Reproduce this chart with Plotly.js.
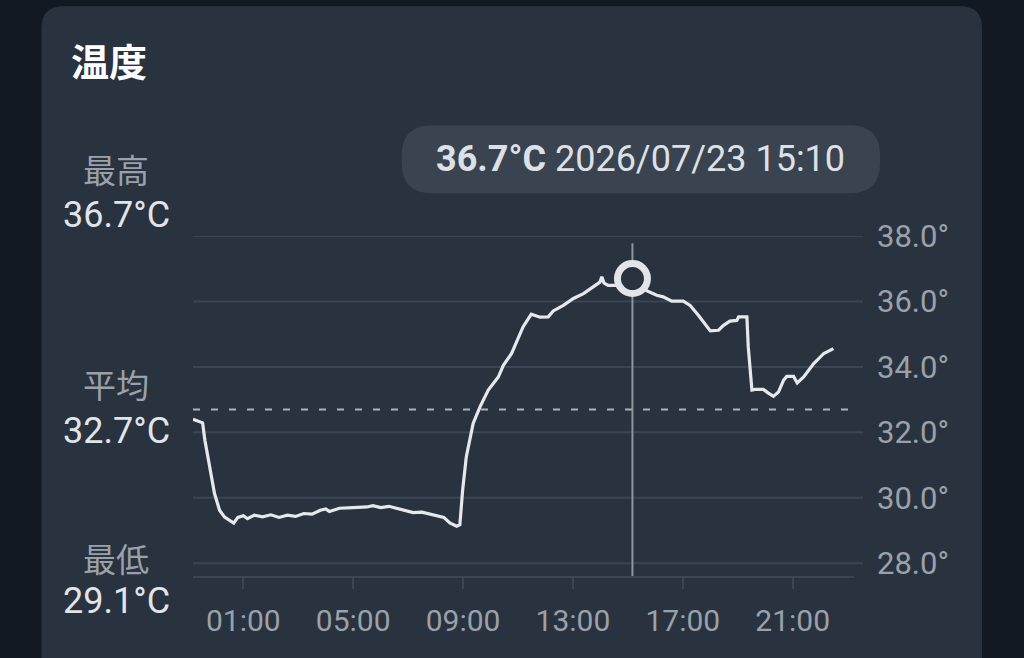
<!DOCTYPE html>
<html>
<head>
<meta charset="utf-8">
<script src="https://cdn.plot.ly/plotly-3.0.1.min.js"></script>
<style>
  html, body { margin: 0; padding: 0; background: #131923; }
  #chart { width: 1024px; height: 658px; }
</style>
</head>
<body>
<div id="chart"></div>
<script>
// ---- data ----
const times = [
  "2026-07-22 23:10","2026-07-22 23:31","2026-07-22 23:36","2026-07-22 23:46","2026-07-22 23:57",
  "2026-07-23 00:08","2026-07-23 00:19","2026-07-23 00:39","2026-07-23 00:48","2026-07-23 01:00",
  "2026-07-23 01:09","2026-07-23 01:24","2026-07-23 01:42","2026-07-23 02:00","2026-07-23 02:18",
  "2026-07-23 02:36","2026-07-23 02:54","2026-07-23 03:12","2026-07-23 03:30","2026-07-23 03:48",
  "2026-07-23 04:00","2026-07-23 04:08","2026-07-23 04:30","2026-07-23 05:00","2026-07-23 05:30",
  "2026-07-23 05:43","2026-07-23 06:00","2026-07-23 06:18","2026-07-23 06:34","2026-07-23 06:54",
  "2026-07-23 07:11","2026-07-23 07:30","2026-07-23 08:02","2026-07-23 08:18","2026-07-23 08:31",
  "2026-07-23 08:46","2026-07-23 08:53","2026-07-23 08:59","2026-07-23 09:07","2026-07-23 09:22",
  "2026-07-23 09:37","2026-07-23 09:55","2026-07-23 10:17","2026-07-23 10:28","2026-07-23 10:46",
  "2026-07-23 11:11","2026-07-23 11:29","2026-07-23 11:48","2026-07-23 12:06","2026-07-23 12:17",
  "2026-07-23 12:39","2026-07-23 13:01","2026-07-23 13:23","2026-07-23 13:44","2026-07-23 13:59",
  "2026-07-23 14:03","2026-07-23 14:08","2026-07-23 14:17","2026-07-23 14:32","2026-07-23 14:51",
  "2026-07-23 15:10","2026-07-23 15:30","2026-07-23 15:49","2026-07-23 16:03","2026-07-23 16:17",
  "2026-07-23 16:36","2026-07-23 17:01","2026-07-23 17:16","2026-07-23 17:34","2026-07-23 17:56",
  "2026-07-23 18:00","2026-07-23 18:18","2026-07-23 18:29","2026-07-23 18:43","2026-07-23 18:58",
  "2026-07-23 19:02","2026-07-23 19:20","2026-07-23 19:23","2026-07-23 19:31","2026-07-23 19:38",
  "2026-07-23 19:56","2026-07-23 20:07","2026-07-23 20:18","2026-07-23 20:29","2026-07-23 20:40",
  "2026-07-23 20:47","2026-07-23 21:02","2026-07-23 21:10","2026-07-23 21:24","2026-07-23 21:46",
  "2026-07-23 22:08","2026-07-23 22:29"
];
const temps = [
  32.40,32.29,31.76,30.94,30.13,
  29.62,29.41,29.23,29.40,29.45,
  29.36,29.47,29.42,29.48,29.40,
  29.47,29.43,29.52,29.50,29.62,
  29.66,29.58,29.68,29.70,29.72,
  29.76,29.70,29.74,29.68,29.63,
  29.55,29.56,29.45,29.40,29.23,
  29.13,29.18,30.23,31.25,32.27,
  32.78,33.29,33.69,34.05,34.41,
  35.22,35.61,35.52,35.53,35.71,
  35.88,36.09,36.24,36.44,36.59,
  36.75,36.56,36.49,36.49,36.55,
  36.70,36.40,36.29,36.19,36.14,
  36.01,36.01,35.88,35.58,35.17,
  35.10,35.12,35.27,35.40,35.42,
  35.53,35.53,34.61,33.29,33.31,
  33.31,33.20,33.10,33.23,33.59,
  33.71,33.71,33.51,33.69,34.10,
  34.41,34.56
];
const yTickVals = [28, 30, 32, 34, 36, 38];
const statLabels = ["最高", "平均", "最低"];
const statValues = [36.7, 32.7, 29.1];
const avgTemp = 32.7;
const hoverTime = "2026-07-23 15:10";
const hoverTemp = 36.7;
const hoverLabelDate = "2026/07/23 15:10";
const chartTitle = "温度";

// ---- layout helpers (pixel -> paper) ----
const L = 193.4, R = 854, T = 235.7, B = 575.7;
const px = p => (p - L) / (R - L);
const py = p => (B - p) / (B - T);
function roundRect(x0, y0, x1, y1, r) {
  const P = (x, y) => px(x).toFixed(5) + "," + py(y).toFixed(5);
  return "M" + P(x0 + r, y0) + " L" + P(x1 - r, y0) + " Q" + P(x1, y0) + " " + P(x1, y0 + r) +
    " L" + P(x1, y1 - r) + " Q" + P(x1, y1) + " " + P(x1 - r, y1) +
    " L" + P(x0 + r, y1) + " Q" + P(x0, y1) + " " + P(x0, y1 - r) +
    " L" + P(x0, y0 + r) + " Q" + P(x0, y0) + " " + P(x0 + r, y0) + " Z";
}

const FONT = "Roboto, 'Noto Sans CJK JP', sans-serif";
const CJK = "'Noto Sans CJK JP', sans-serif";
const CARD = "#29323f";
const GRID = "#3b4553";
const LABEL = "#9ba1a9";
const VALUE = "#e1e4e8";

const traces = [
  {
    x: times, y: temps, type: "scatter", mode: "lines",
    line: { color: "#e6e8eb", width: 3.2 },
    hoverinfo: "skip", showlegend: false
  },
  {
    x: [hoverTime], y: [hoverTemp], type: "scatter", mode: "markers",
    marker: { size: 30, color: CARD, line: { color: "#e2e4e7", width: 7 } },
    hoverinfo: "skip", showlegend: false, cliponaxis: false
  }
];

const shapes = [
  { type: "path", xref: "paper", yref: "paper", layer: "below",
    path: roundRect(42, 6, 982, 720, 22), fillcolor: CARD, line: { width: 0 } }
];
yTickVals.forEach(v => shapes.push({
  type: "line", xref: "paper", yref: "y", layer: "below",
  x0: 0, x1: px(863), y0: v, y1: v, line: { color: GRID, width: 2 }
}));
shapes.push({
  type: "line", xref: "paper", yref: "y", layer: "below",
  x0: 0, x1: 1, y0: avgTemp, y1: avgTemp,
  line: { color: "#aeb2b8", width: 2, dash: "7px,11px" }
});
shapes.push({
  type: "line", xref: "x", yref: "paper", layer: "below",
  x0: hoverTime, x1: hoverTime, y0: 0, y1: py(243),
  line: { color: "#8f959d", width: 2 }
});
shapes.push({
  type: "path", xref: "paper", yref: "paper", layer: "below",
  path: roundRect(402, 125, 880, 193, 30), fillcolor: "#3a4350", line: { width: 0 }
});

const annotations = [];
const statY = [[169, 215], [384, 431], [558, 601]];
statLabels.forEach((lab, i) => {
  annotations.push({
    xref: "paper", yref: "paper", x: px(116), y: py(statY[i][0]),
    xanchor: "center", yanchor: "middle", showarrow: false,
    text: lab, font: { family: CJK, size: 33, color: LABEL }
  });
  annotations.push({
    xref: "paper", yref: "paper", x: px(117), y: py(statY[i][1]),
    xanchor: "center", yanchor: "middle", showarrow: false,
    text: statValues[i].toFixed(1) + "°C", font: { family: FONT, size: 36, color: VALUE }
  });
});
annotations.push({
  xref: "paper", yref: "paper", x: px(641), y: py(159),
  xanchor: "center", yanchor: "middle", showarrow: false,
  text: "<b>" + hoverTemp.toFixed(1) + "°C</b> " + hoverLabelDate,
  font: { family: FONT, size: 36, color: "#dde0e5" }
});

const layout = {
  width: 1024, height: 658,
  margin: { l: L, r: 1024 - R, t: T, b: 658 - B, pad: 0 },
  paper_bgcolor: "#131923",
  plot_bgcolor: "rgba(0,0,0,0)",
  title: {
    text: "<b>" + chartTitle + "</b>",
    x: 71 / 1024, xanchor: "left", xref: "container",
    y: 1 - 63 / 658, yanchor: "middle", yref: "container",
    font: { family: CJK, size: 38, color: "#ffffff" }
  },
  xaxis: {
    type: "date",
    range: ["2026-07-22 23:10", "2026-07-23 23:14"],
    tick0: "2026-07-23 01:00", dtick: 4 * 3600 * 1000,
    tickformat: "%H:%M",
    showgrid: false, zeroline: false,
    showline: true, linecolor: GRID, linewidth: 2,
    ticks: "outside", ticklen: 11, tickwidth: 2, tickcolor: GRID,
    ticklabelstandoff: 6,
    tickfont: { family: FONT, size: 30, color: LABEL },
    fixedrange: true
  },
  yaxis: {
    side: "right",
    range: [27.61, 38.0],
    tickvals: yTickVals,
    ticktext: yTickVals.map(v => v.toFixed(1) + "°"),
    showgrid: false, zeroline: false, showline: false,
    ticks: "", ticklabelstandoff: 22,
    tickfont: { family: FONT, size: 31, color: LABEL },
    fixedrange: true
  },
  shapes: shapes,
  annotations: annotations,
  showlegend: false
};

Plotly.newPlot("chart", traces, layout, { displayModeBar: false, staticPlot: true });
</script>
</body>
</html>
